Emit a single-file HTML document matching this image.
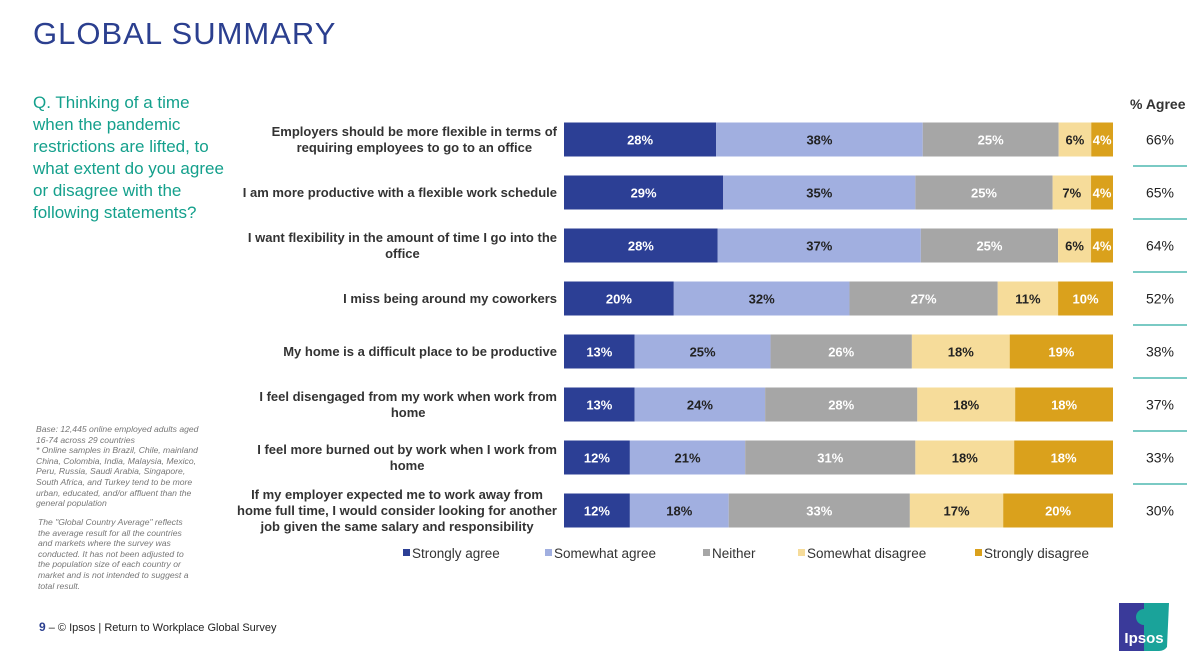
<!DOCTYPE html>
<html><head><meta charset="utf-8">
<style>
body{margin:0;width:1200px;height:669px;background:#fff;font-family:"Liberation Sans",Arial,sans-serif;position:relative;overflow:hidden}
.abs{position:absolute}
#title{left:33px;top:16px;font-size:31px;color:#2b3f8f;letter-spacing:1px}
#q{left:33px;top:92px;width:200px;font-size:17px;line-height:22px;color:#14a08c}
.cat{position:absolute;right:643px;display:flex;justify-content:flex-end;align-items:center;height:53px}
.cat span{display:inline-block;text-align:center;font-weight:bold;font-size:13px;line-height:16px;color:#333}
.note{left:36px;font-size:8.6px;line-height:10.6px;font-style:italic;color:#777}
</style></head><body>
<div id="title" class="abs">GLOBAL SUMMARY</div>
<div id="q" class="abs">Q. Thinking of a time when the pandemic restrictions are lifted, to what extent do you agree or disagree with the following statements?</div>
<div class="abs note" style="top:424px;width:168px">Base: 12,445 online employed adults aged 16-74 across 29 countries<br>* Online samples in Brazil, Chile, mainland China, Colombia, India, Malaysia, Mexico, Peru, Russia, Saudi Arabia, Singapore, South Africa, and Turkey tend to be more urban, educated, and/or affluent than the general population</div>
<div class="abs note" style="top:517px;left:38px;width:158px">The "Global  Country Average" reflects the average result for all the countries and markets where the survey was conducted. It has not been adjusted to the population size of each country or market and is not intended to suggest a total result.</div>
<div class="abs" style="left:39px;top:620px;font-size:11px;color:#222"><b style="color:#2b3f8f;font-size:12px">9</b> –  © Ipsos | Return to Workplace Global Survey</div>
<svg class="abs" style="left:1119px;top:603px" width="50" height="48">
<path d="M0 0H36L36 48H0Z" fill="#3a3a9a"/><path d="M25 0H50L48 44Q45 48 40 48H25Z" fill="#1aa39a"/>
<circle cx="25" cy="14" r="8" fill="#1aa39a"/><text x="25" y="40" font-size="15" fill="#fff" text-anchor="middle" font-family="Liberation Sans" font-weight="bold">Ipsos</text></svg>
<div class="abs" style="left:1130px;top:96px;font-size:14px;font-weight:bold;color:#333">% Agree</div>
<div id="labels"></div>
<svg id="chart" class="abs" style="left:0;top:0" width="1200" height="669"></svg>
<script>
const categories=["Employers should be more flexible in terms of<br>requiring employees to go to an office","I am more productive with a flexible work schedule","I want flexibility in the amount of time I go into the<br>office","I miss being around my coworkers","My home is a difficult place to be productive","I feel disengaged from my work when work from<br>home","I feel more burned out by work when I work from<br>home","If my employer expected me to work away from<br>home full time, I would consider looking for another<br>job given the same salary and responsibility"];
const stronglyAgree=[28,29,28,20,13,13,12,12];
const somewhatAgree=[38,35,37,32,25,24,21,18];
const neither=[25,25,25,27,26,28,31,33];
const somewhatDisagree=[6,7,6,11,18,18,18,17];
const stronglyDisagree=[4,4,4,10,19,18,18,20];
const pctAgree=[66,65,64,52,38,37,33,30];
const seriesNames=["Strongly agree","Somewhat agree","Neither","Somewhat disagree","Strongly disagree"];
const series=[stronglyAgree,somewhatAgree,neither,somewhatDisagree,stronglyDisagree];
const colors=["#2c3f95","#a1afe0","#a6a6a6","#f6dc9a","#daa11c"];
const txtCol=["#fff","#222","#fff","#222","#fff"];
const NS="http://www.w3.org/2000/svg";
const svg=document.getElementById('chart');
const x0=564,W=549,y0=113,pitch=53,bh=34;
const xs=(v,tot)=>v/tot*W;
const yc=i=>y0+pitch*i+pitch/2;
function el(t,a){const e=document.createElementNS(NS,t);for(const k in a)e.setAttribute(k,a[k]);svg.appendChild(e);return e;}
const lab=document.getElementById('labels');
categories.forEach((c,i)=>{
  const d=document.createElement('div');d.className='cat';d.style.top=(yc(i)-pitch/2)+'px';
  
  
  d.innerHTML='<span>'+c+'</span>';lab.appendChild(d);
  let tot=0;series.forEach(s=>tot+=s[i]);
  let x=x0;
  series.forEach((s,j)=>{
    const w=xs(s[i],tot);
    const r=el('rect',{x:x,y:yc(i)-bh/2,width:w,height:bh,fill:colors[j]});
    
    
    const t=el('text',{x:x+w/2,y:yc(i)+5,'text-anchor':'middle','font-size':13,'font-weight':'bold',fill:txtCol[j],'font-family':'Liberation Sans'});
    t.textContent=s[i]+'%';
    
    
    x+=w;
  });
  const a=el('text',{x:1160,y:yc(i)+5,'text-anchor':'middle','font-size':14,fill:'#222','font-family':'Liberation Sans'});
  a.textContent=pctAgree[i]+'%';
  
  
  if(i<categories.length-1){const l=el('line',{x1:1133,x2:1187,y1:yc(i)+pitch/2,y2:yc(i)+pitch/2,stroke:'#4fb8b0','stroke-width':1.5});
    
    }
});
const legX=[403,545,703,798,975];
seriesNames.forEach((n,j)=>{
  const r=el('rect',{x:legX[j],y:549,width:7,height:7,fill:colors[j]});
  
  
  const t=el('text',{x:legX[j]+9,y:558,'font-size':13.5,fill:'#333','font-family':'Liberation Sans'});
  t.textContent=n;
  
  
});
</script>
</body></html>
